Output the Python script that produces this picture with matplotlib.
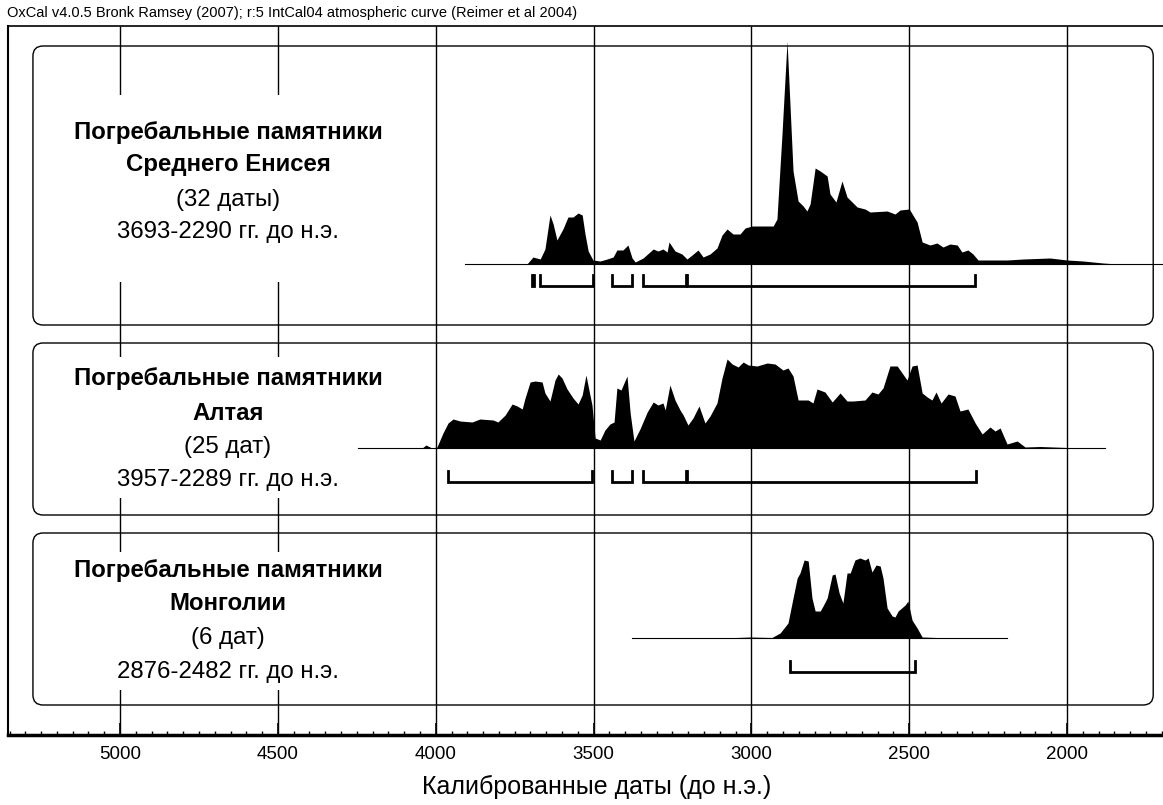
import numpy as np
import matplotlib
matplotlib.use("Agg")
import matplotlib.pyplot as plt
from matplotlib.patches import FancyBboxPatch, Rectangle

plt.rcParams['font.family'] = ['Liberation Sans', 'DejaVu Sans']

# calibrated dates BC (x) and probability height (in pixels of the original plot)
enisei_x = [3908, 3711, 3692, 3669, 3654, 3638, 3628, 3616, 3597, 3581, 3565, 3549, 3536, 3527,
            3517, 3502, 3479, 3457, 3438, 3426, 3407, 3391, 3378, 3368, 3343, 3311, 3296, 3280,
            3267, 3261, 3242, 3220, 3204, 3188, 3169, 3153, 3131, 3109, 3093, 3077, 3058, 3036,
            3020, 2998, 2982, 2931, 2919, 2903, 2887, 2868, 2852, 2836, 2824, 2814, 2798, 2782,
            2760, 2751, 2732, 2713, 2697, 2681, 2665, 2640, 2624, 2570, 2545, 2529, 2500, 2475,
            2459, 2434, 2412, 2393, 2371, 2348, 2333, 2314, 2298, 2282, 2190, 2139, 2054, 2000,
            1949, 1886, 1842]
enisei_h = [0, 0, 7, 5, 15, 49, 40, 24, 35, 47, 47, 51, 49, 30,
            13, 4, 3, 5, 7, 14, 14, 19, 6, 2, 6, 15, 13, 15,
            12, 22, 13, 10, 5, 9, 14, 7, 10, 16, 29, 35, 30, 30,
            36, 38, 38, 38, 45, 130, 223, 93, 63, 58, 53, 60, 96, 93,
            88, 70, 62, 83, 67, 62, 57, 55, 52, 53, 50, 54, 55, 42,
            22, 19, 21, 17, 20, 19, 12, 14, 10, 4, 4, 5, 6, 4,
            3, 1, 0]
enisei_line = [3908, 1690]
enisei_ranges = [(3695, 3688), (3670, 3502), (3441, 3378), (3343, 3206), (3203, 2290)]

altai_x = [4246, 4043, 4031, 4012, 3996, 3977, 3961, 3945, 3923, 3885, 3860, 3818, 3803, 3780,
           3758, 3742, 3726, 3717, 3701, 3685, 3663, 3654, 3638, 3622, 3612, 3600, 3584, 3565,
           3549, 3536, 3524, 3514, 3505, 3495, 3479, 3464, 3448, 3435, 3426, 3413, 3394, 3384,
           3372, 3353, 3330, 3311, 3296, 3280, 3273, 3258, 3242, 3226, 3216, 3201, 3185, 3166,
           3147, 3131, 3109, 3093, 3077, 3061, 3042, 3026, 3010, 2982, 2950, 2925, 2900, 2884,
           2868, 2852, 2830, 2820, 2805, 2792, 2767, 2744, 2719, 2697, 2678, 2640, 2618, 2599,
           2583, 2561, 2538, 2507, 2491, 2475, 2459, 2443, 2428, 2415, 2399, 2377, 2355, 2339,
           2314, 2291, 2269, 2244, 2228, 2212, 2190, 2158, 2133, 2085, 2000, 1880]
altai_h = [0, 0, 3, 0, 1, 15, 25, 29, 27, 26, 29, 28, 26, 33,
           44, 42, 39, 50, 66, 67, 66, 55, 47, 68, 74, 70, 59, 50,
           44, 53, 73, 57, 43, 10, 8, 18, 24, 26, 60, 58, 72, 35,
           7, 19, 36, 46, 43, 45, 38, 63, 48, 38, 33, 23, 30, 42,
           25, 32, 45, 70, 89, 84, 81, 86, 83, 82, 85, 84, 78, 80,
           72, 48, 48, 48, 45, 59, 56, 46, 55, 47, 47, 48, 56, 54,
           60, 82, 82, 68, 82, 83, 55, 51, 48, 56, 45, 54, 52, 37,
           39, 25, 14, 21, 17, 20, 4, 7, 1, 1.5, 0.5, 0]
altai_line = [4246, 1880]
altai_ranges = [(3961, 3505), (3441, 3378), (3343, 3206), (3203, 2289)]

mongol_x = [3378, 3093, 3004, 2935, 2909, 2884, 2868, 2855, 2846, 2833, 2820, 2808, 2798, 2782,
            2773, 2760, 2744, 2735, 2722, 2710, 2697, 2687, 2672, 2656, 2640, 2630, 2618, 2605,
            2592, 2583, 2570, 2554, 2545, 2535, 2513, 2504, 2491, 2475, 2459, 2412, 2361, 2345,
            2190]
mongol_h = [0, 0, 1, 0.5, 5, 15, 40, 60, 65, 78, 77, 40, 27, 27,
            32, 40, 63, 64, 45, 35, 65, 65, 78, 80, 78, 80, 66, 73,
            72, 60, 30, 22, 21, 27, 33, 37, 18, 10, 1, 0.5, 0.5, 0,
            0]
mongol_line = [3378, 2190]
mongol_ranges = [(2877, 2481)]

titles = [["Погребальные памятники", "Среднего Енисея", "(32 даты)", "3693-2290 гг. до н.э."],
          ["Погребальные памятники", "Алтая", "(25 дат)", "3957-2289 гг. до н.э."],
          ["Погребальные памятники", "Монголии", "(6 дат)", "2876-2482 гг. до н.э."]]

# layout (y in pixels above the time axis)
YR_PER_PX = 3.168
baselines = [471, 287, 97]
bracket_bot = [449, 253, 63]
bracket_h = 11
boxes = [(410, 689), (220, 392), (30, 202)]
text_y = [[603, 570, 535, 503], [357, 322, 288, 255], [165, 132, 97, 63]]
white = [(453, 640), (237, 378), (45, 183)]

fig = plt.figure(figsize=(11.63, 8.05), dpi=100)
ax = fig.add_axes([8 / 1163, 70 / 805, 1155 / 1163, 709 / 805])
ax.set_xlim(5355, 1696)
ax.set_ylim(0, 709)

ax.vlines(np.arange(5000, 1999, -500), 0, 709, color='black', lw=1.0, zorder=1)

series = [(enisei_x, enisei_h, enisei_line, enisei_ranges),
          (altai_x, altai_h, altai_line, altai_ranges),
          (mongol_x, mongol_h, mongol_line, mongol_ranges)]

for i, (xs, hs, line, ranges) in enumerate(series):
    b = baselines[i]
    y0, y1 = boxes[i]
    box = FancyBboxPatch((1727, y0), 5276 - 1727, y1 - y0,
                         boxstyle="round,pad=0,rounding_size=32",
                         mutation_aspect=1 / YR_PER_PX,
                         fc='none', ec='black', lw=1.0, zorder=3)
    ax.add_patch(box)
    w0, w1 = white[i]
    ax.add_patch(Rectangle((4050, w0), 5238 - 4050, w1 - w0, fc='white', ec='none', zorder=2))

    ax.plot(line, [b, b], color='black', lw=0.8, zorder=4)
    ax.fill_between(xs, b, b + np.array(hs), color='black', lw=0, zorder=4)

    bb = bracket_bot[i]
    for s, e in ranges:
        ax.plot([s, s, e, e], [bb + bracket_h, bb, bb, bb + bracket_h],
                color='black', lw=2.0, solid_joinstyle='miter', zorder=4)

    for j, t in enumerate(titles[i]):
        ax.text(4658, text_y[i][j], t, ha='center', va='center', fontsize=17.3,
                fontweight='bold' if j < 2 else 'normal', zorder=5)

ax.set_xticks(np.arange(5000, 1999, -500))
ax.set_xticks(np.arange(5350, 1699, -50), minor=True)
ax.set_yticks([])
ax.tick_params(axis='x', which='major', direction='in', length=9, width=1.2,
               labelsize=13.5, pad=8)
ax.tick_params(axis='x', which='minor', direction='in', length=3, width=1)
ax.spines['right'].set_visible(False)
ax.spines['bottom'].set_linewidth(2.5)
ax.spines['left'].set_linewidth(1.5)
ax.spines['top'].set_linewidth(1.2)
ax.set_xlabel("Калиброванные даты (до н.э.)", fontsize=18)
ax.xaxis.set_label_coords(0.51, -0.074)
ax.xaxis.label.set_va('center')

fig.text(7 / 1163, 1 - 13 / 805,
         "OxCal v4.0.5 Bronk Ramsey (2007); r:5 IntCal04 atmospheric curve (Reimer et al 2004)",
         fontsize=10.5, va='center', ha='left')

fig.savefig("out.png", dpi=100)
